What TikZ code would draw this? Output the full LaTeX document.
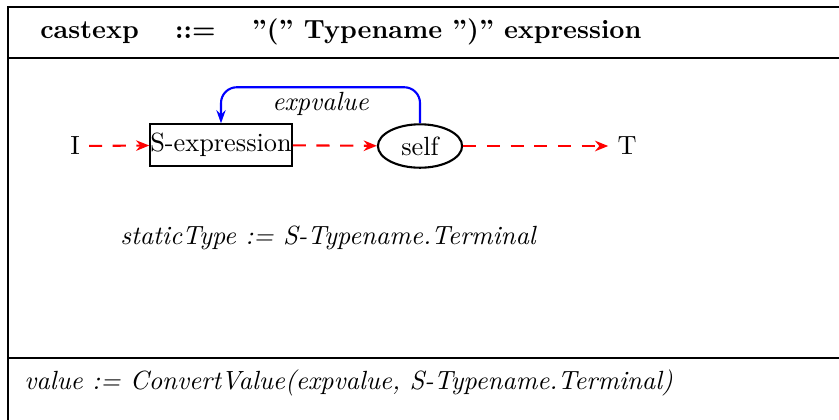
\documentclass[tikz,border=0pt]{standalone}
\usetikzlibrary{shapes.geometric,arrows.meta}
\begin{document}
\begin{tikzpicture}
[x=0.38pt, y=-0.38pt,
       frame/.style={line width=1.1pt},
       flow/.style={red, thick, dash pattern=on 5pt off 4pt, -{Stealth[length=5pt,width=4pt]}},
       back/.style={blue, thick, rounded corners=6pt, -{Stealth[length=5pt,width=3.5pt]}},
       sbox/.style={draw, thick, inner xsep=0pt},
       sell/.style={draw, thick, ellipse, minimum width=32pt, minimum height=16.5pt, inner sep=0pt}]
  \useasboundingbox (0,0) rectangle (839,419);
  % frame
  \draw[frame] (845,7) -- (8,7) -- (8,425);
  \draw[frame] (8,58) -- (845,58);
  \draw[frame] (8,358) -- (845,358);
  % header
  \node[anchor=west] (head) at (31,32)
    {\bfseries castexp\quad\ ::=\quad\ ''('' Typename '')'' expression};
  % flow
  \node (in) at (75,146) {I};
  \node[sbox] (sexp) at (221,145) {S-expression};
  \node[sell] (self) at (420,146) {self};
  \node (out) at (627,146) {T};
  \draw[flow] (in) -- (sexp);
  \draw[flow] (sexp) -- (self);
  \draw[flow] (self) -- (out);
  \draw[back] (self.north) -- ++(0,-36) -| node[pos=0.25, below=-2pt, text=black] {\itshape expvalue} (sexp.north);
  % attributes
  \node[anchor=west] (stat) at (111,238) {\itshape staticType := S-Typename.Terminal};
  \node[anchor=west] (val) at (15,383) {\itshape value := ConvertValue(expvalue, S-Typename.Terminal)};
\end{tikzpicture}
\end{document}
